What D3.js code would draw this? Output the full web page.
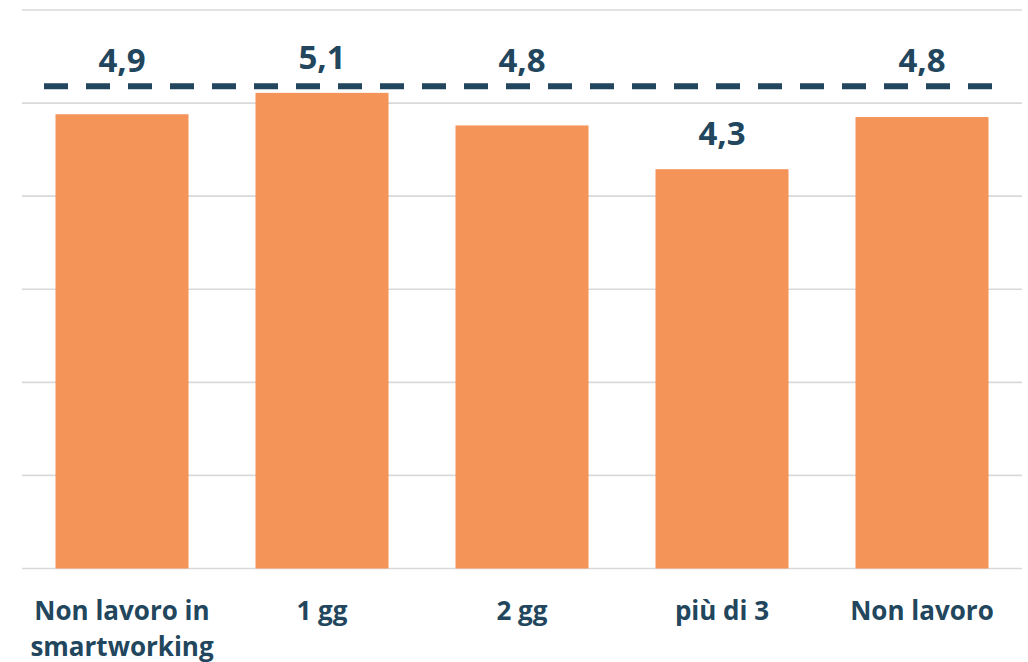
<!DOCTYPE html>
<html>
<head>
<meta charset="utf-8">
<script src="https://cdn.jsdelivr.net/npm/d3@7/dist/d3.min.js"></script>
<style>
  html, body { margin: 0; padding: 0; background: #fff; }
  svg { display: block; }
  text { font-family: "Open Sans", Lato, sans-serif; font-weight: 700; fill: #21465d; }
</style>
</head>
<body>
<div id="chart"></div>
<script>
const categories = ["Non lavoro in\nsmartworking", "1 gg", "2 gg", "più di 3", "Non lavoro"];
const values = [4.88, 5.11, 4.76, 4.29, 4.85];
const valueLabels = ["4,9", "5,1", "4,8", "4,3", "4,8"];
const refValue = 5.18;
const yTicks = [0, 1, 2, 3, 4, 5, 6];

const width = 1028, height = 662;

const svg = d3.select("#chart")
  .append("svg")
  .attr("width", width)
  .attr("height", height);

const x = d3.scaleBand()
  .domain(categories)
  .range([22, 1022])
  .paddingInner(0.335)
  .paddingOuter(0.1675);

const y = d3.scaleLinear().domain([0, 6]).range([568.5, 10]);

// grid
svg.append("g")
  .selectAll("line")
  .data(yTicks)
  .join("line")
  .attr("x1", 22)
  .attr("x2", 1022)
  .attr("y1", d => y(d))
  .attr("y2", d => y(d))
  .attr("stroke", "#d9d9d9")
  .attr("stroke-width", 1.6);

// bars
svg.append("g")
  .selectAll("rect")
  .data(values)
  .join("rect")
  .attr("x", (d, i) => x(categories[i]))
  .attr("y", d => y(d))
  .attr("width", x.bandwidth())
  .attr("height", d => y(0) - y(d))
  .attr("fill", "#f59458");

// dashed reference line
const dashY = y(refValue);
svg.append("line")
  .attr("x1", 44)
  .attr("x2", 998)
  .attr("y1", dashY)
  .attr("y2", dashY)
  .attr("stroke", "#21465d")
  .attr("stroke-width", 6)
  .attr("stroke-dasharray", "24 18");

// value labels (moved above the dashed line when they would hit it)
svg.append("g")
  .selectAll("text")
  .data(values)
  .join("text")
  .attr("x", (d, i) => x(categories[i]) + x.bandwidth() / 2)
  .attr("y", d => {
    let b = y(d) - 24;
    if (b - 23 < dashY + 4 && b > dashY - 14) b = dashY - 14;
    return b;
  })
  .attr("text-anchor", "middle")
  .attr("font-size", 33)
  .text((d, i) => valueLabels[i]);

// category labels
const cat = svg.append("g")
  .selectAll("text")
  .data(categories)
  .join("text")
  .attr("x", d => x(d) + x.bandwidth() / 2)
  .attr("y", 620)
  .attr("text-anchor", "middle")
  .attr("font-size", 26);

cat.selectAll("tspan")
  .data(d => d.split("\n"))
  .join("tspan")
  .attr("x", function () { return this.parentNode.getAttribute("x"); })
  .attr("dy", (d, i) => i === 0 ? 0 : 36)
  .text(d => d);
</script>
</body>
</html>
